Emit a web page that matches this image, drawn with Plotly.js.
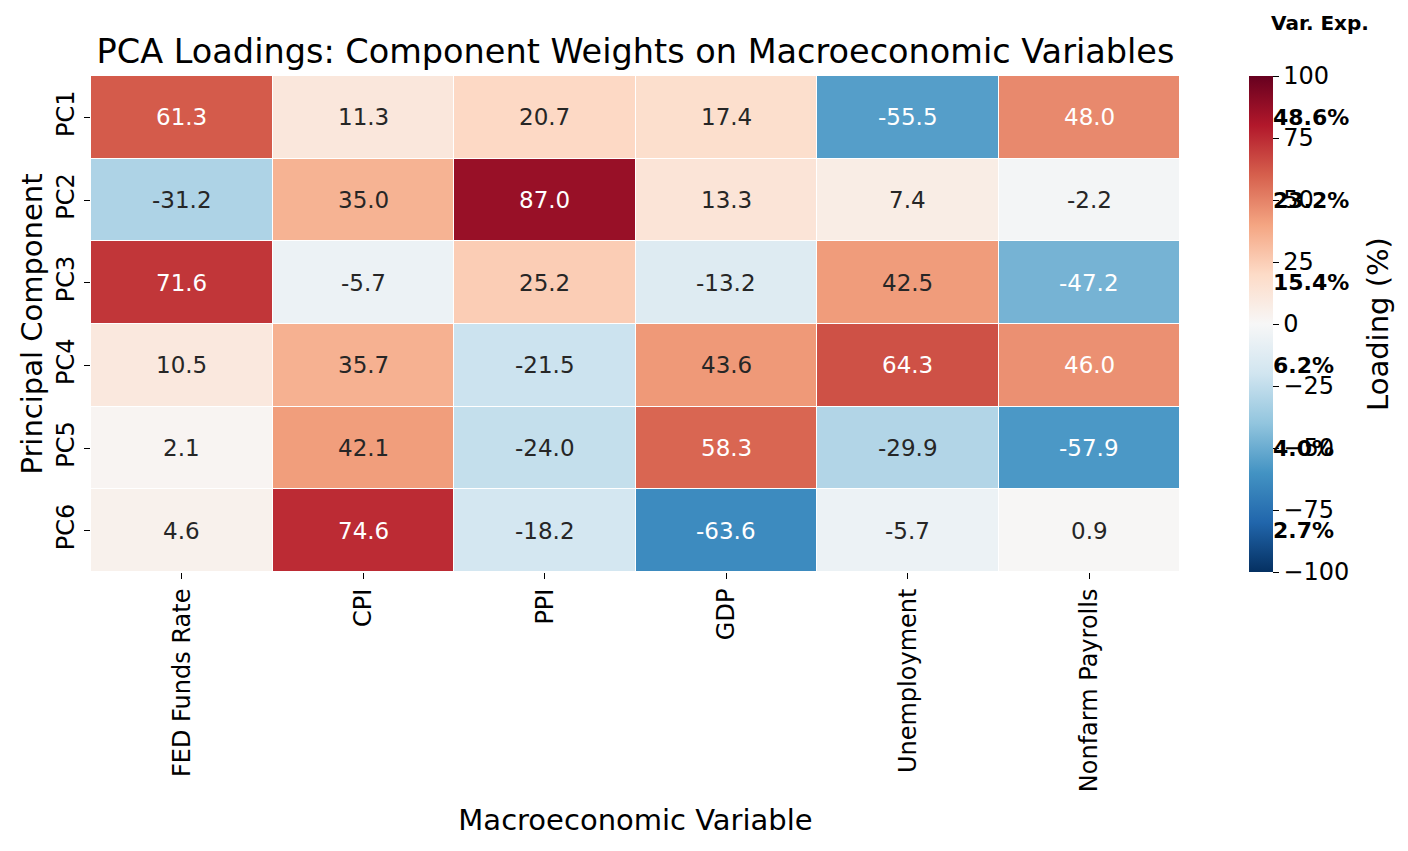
<!DOCTYPE html>
<html><head><meta charset="utf-8">
<script src="https://cdn.plot.ly/plotly-3.0.1.min.js"></script>
<style>html,body{margin:0;padding:0;background:#fff}</style>
</head><body>
<div id="chart" style="width:1408px;height:851px"></div>
<script>
const variables = ["FED Funds Rate", "CPI", "PPI", "GDP", "Unemployment", "Nonfarm Payrolls"];
const components = ["PC1", "PC2", "PC3", "PC4", "PC5", "PC6"];
const loadings = [
  [61.3, 11.3, 20.7, 17.4, -55.5, 48.0],
  [-31.2, 35.0, 87.0, 13.3, 7.4, -2.2],
  [71.6, -5.7, 25.2, -13.2, 42.5, -47.2],
  [10.5, 35.7, -21.5, 43.6, 64.3, 46.0],
  [2.1, 42.1, -24.0, 58.3, -29.9, -57.9],
  [4.6, 74.6, -18.2, -63.6, -5.7, 0.9]
];
const varExplained = [48.6, 23.2, 15.4, 6.2, 4.0, 2.7];
const colorbarTicks = [-100, -75, -50, -25, 0, 25, 50, 75, 100];

const colorscale = [
  [0.0, "#053061"], [0.1, "#2166ac"], [0.2, "#4393c3"], [0.3, "#92c5de"],
  [0.4, "#d1e5f0"], [0.5, "#f7f7f7"], [0.6, "#fddbc7"], [0.7, "#f4a582"],
  [0.8, "#d6604d"], [0.9, "#b2182b"], [1.0, "#67001f"]
];

const FONT = "DejaVu Sans, sans-serif";
const annotations = [];
components.forEach((pc, i) => {
  variables.forEach((v, j) => {
    const val = loadings[i][j];
    annotations.push({
      x: v, y: pc, xref: "x", yref: "y", text: val.toFixed(1), showarrow: false,
      font: {family: FONT, size: 23, color: Math.abs(val) > 45 ? "#ffffff" : "#262626"}
    });
  });
  annotations.push({
    x: 1.0835, xref: "paper", y: pc, yref: "y", xanchor: "left", yanchor: "middle",
    text: "<b>" + varExplained[i].toFixed(1) + "%</b>", showarrow: false,
    font: {family: FONT, size: 22, color: "#000"}
  });
});
annotations.push({
  x: 1.1285, xref: "paper", y: 1.107, yref: "paper", xanchor: "center", yanchor: "middle",
  text: "<b>Var. Exp.</b>", showarrow: false, font: {family: FONT, size: 20, color: "#000"}
});
annotations.push({
  x: 1.1818, xref: "paper", y: 0.5, yref: "paper", xanchor: "center", yanchor: "middle",
  text: "Loading (%)", textangle: -90, showarrow: false, font: {family: FONT, size: 29, color: "#000"}
});

const trace = {
  type: "heatmap", x: variables, y: components, z: loadings,
  zmin: -100, zmax: 100, colorscale: colorscale, xgap: 1, ygap: 1,
  hoverinfo: "skip",
  colorbar: {
    x: 1.0634, xanchor: "left", xpad: 0, ypad: 0, y: 0.5, yanchor: "middle", len: 1, lenmode: "fraction",
    thickness: 24, outlinewidth: 0, tickvals: colorbarTicks,
    ticks: "outside", ticklen: 6, tickwidth: 1, tickcolor: "#000",
    tickfont: {family: FONT, size: 24, color: "#000"},
    title: {text: ""}
  }
};

const layout = {
  width: 1408, height: 851,
  margin: {l: 91, r: 228, t: 76, b: 279},
  paper_bgcolor: "#fff", plot_bgcolor: "#fff",
  title: {text: "PCA Loadings: Component Weights on Macroeconomic Variables",
          x: (91 + 1180) / 2 / 1408, xanchor: "center", y: 0.94, yanchor: "middle",
          font: {family: FONT, size: 33.5, color: "#000"}},
  xaxis: {
    title: {text: "Macroeconomic Variable", font: {family: FONT, size: 29, color: "#000"}, standoff: 18},
    tickangle: -90, ticks: "outside", ticklen: 6, tickcolor: "#000", showgrid: false, zeroline: false,
    tickfont: {family: FONT, size: 24, color: "#000"}
  },
  yaxis: {
    title: {text: "Principal Component", font: {family: FONT, size: 29, color: "#000"}, standoff: 1},
    autorange: "reversed", tickangle: -90, ticks: "outside", ticklen: 6, tickcolor: "#000",
    showgrid: false, zeroline: false, tickfont: {family: FONT, size: 24, color: "#000"}
  },
  annotations: annotations,
  font: {family: FONT}
};

Plotly.newPlot("chart", [trace], layout, {displayModeBar: false, staticPlot: true});
</script>
</body></html>
